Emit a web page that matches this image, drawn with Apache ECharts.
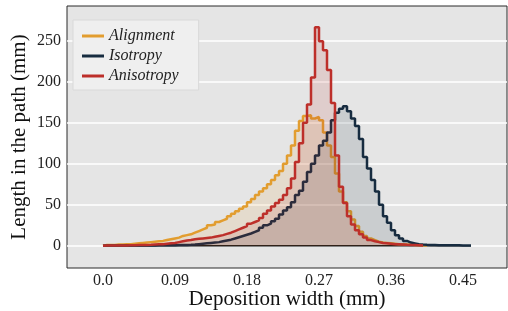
<!DOCTYPE html>
<html>
<head>
<meta charset="utf-8">
<script src="https://cdn.jsdelivr.net/npm/echarts@6/dist/echarts.min.js"></script>
<style>
  html, body { margin: 0; padding: 0; background: #fff; }
  #chart { width: 508px; height: 311px; }
</style>
</head>
<body>
<div id="chart"></div>
<script>
// histogram bins start at 0, all with the same width (mm)
var binStart = 0;
var binWidth = 0.005;

// counts per bin
var alignment = [
  1, 1, 1, 1.5, 1.5, 2, 2, 2.5, 3, 3.5,
  4, 4.5, 5, 5.5, 6, 7, 8, 9, 10, 12,
  13, 14, 16, 18, 20, 22, 25, 26, 29, 31,
  33, 36, 39, 42, 45, 48, 53, 57, 62, 66,
  70, 75, 80, 86, 91, 100, 110, 122, 140, 152,
  158, 159, 155, 157, 153, 138, 122, 108, 88, 66,
  53, 42, 32, 24, 17, 12, 9, 7, 5, 4,
  3.5, 3, 2.5, 2, 2, 1.5, 1.5, 1, 1, 0.8,
  0.5
];
var isotropy = [
  0.3, 0.3, 0.3, 0.3, 0.3, 0.3, 0.3, 0.3, 0.3, 0.3,
  0.5, 0.5, 0.5, 0.6, 0.6, 0.7, 0.8, 0.8, 0.9, 1,
  1, 1.2, 1.5, 2, 2.5, 3, 3.5, 4, 4.5, 5.5,
  6.5, 7.5, 9, 10.5, 12, 13.5, 15, 17, 19, 22,
  25, 27, 30, 33, 38, 43, 47, 53, 62, 67,
  78, 90, 100, 110, 122, 128, 138, 153, 162, 167,
  170, 164, 155, 146, 130, 108, 94, 80, 66, 50,
  36, 28, 19, 13, 9, 6, 4, 3, 2, 1.5,
  1.2, 1, 1, 0.8, 0.8, 0.7, 0.7, 0.6, 0.6, 0.5,
  0.5, 0.5
];
var anisotropy = [
  0.5, 0.5, 0.5, 0.5, 0.5, 0.5, 0.8, 0.8, 1, 1,
  1, 1.2, 1.5, 1.8, 2, 2.5, 3, 3.5, 4.5, 5.5,
  6.5, 7, 8, 8.5, 9, 9.5, 10, 11, 12, 13,
  14.5, 16, 18, 20, 22, 24, 27, 29, 31, 34,
  39, 43, 48, 52, 56, 62, 70, 82, 102, 125,
  150, 172, 205, 266, 249, 238, 214, 174, 110, 72,
  52, 36, 26, 19, 14, 10, 7, 5.5, 4.5, 3.5,
  3, 2.5, 2, 1.8, 1.5, 1.2, 1, 1, 0.8, 0.5
];

var seriesNames = ['Alignment', 'Isotropy', 'Anisotropy'];
var seriesColors = ['#e29d2f', '#172c40', '#bd2f2a'];

var xTicks = [0, 0.09, 0.18, 0.27, 0.36, 0.45];
var xTickLabels = ['0.0', '0.09', '0.18', '0.27', '0.36', '0.45'];
var yTicks = [0, 50, 100, 150, 200, 250];

// turn bin counts into step outline points
function toSteps(counts) {
  var pts = [[binStart, 0]];
  for (var i = 0; i < counts.length; i++) {
    pts.push([binStart + i * binWidth, counts[i]]);
  }
  pts.push([binStart + counts.length * binWidth, 0]);
  return pts;
}

var allCounts = [alignment, isotropy, anisotropy];
var maxEdge = Math.max.apply(null, allCounts.map(function (c) { return binStart + c.length * binWidth; }));

var series = allCounts.map(function (counts, k) {
  return {
    name: seriesNames[k],
    type: 'line',
    step: 'end',
    symbol: 'none',
    data: toSteps(counts),
    color: seriesColors[k],
    lineStyle: { width: 2.5, color: seriesColors[k] },
    areaStyle: { color: seriesColors[k], opacity: 0.13 },
    z: 3 + k
  };
});

// bottom edge of the histograms
series.unshift({
  name: 'base',
  type: 'line',
  symbol: 'none',
  silent: true,
  data: [[binStart, 0], [maxEdge, 0]],
  lineStyle: { width: 1.5, color: '#111' },
  z: 2
});

var chart = echarts.init(document.getElementById('chart'), null, { renderer: 'canvas' });
chart.setOption({
  animation: false,
  backgroundColor: '#ffffff',
  grid: {
    left: 67, right: 1, top: 6, bottom: 43,
    outerBoundsMode: 'none',
    containLabel: false,
    show: true,
    backgroundColor: '#e5e5e5',
    borderColor: '#2a2a2a',
    borderWidth: 1
  },
  legend: {
    data: seriesNames,
    orient: 'vertical',
    left: 73,
    top: 20,
    backgroundColor: '#efefef',
    borderColor: '#d9d9d9',
    borderWidth: 1,
    borderRadius: 0,
    padding: [8, 20, 6, 9],
    itemGap: 4,
    itemWidth: 22,
    itemHeight: 3,
    icon: 'rect',
    textStyle: {
      fontFamily: 'Liberation Serif',
      fontStyle: 'italic',
      fontSize: 16,
      color: '#222'
    }
  },
  xAxis: {
    type: 'value',
    min: -0.045,
    max: 0.505,
    name: 'Deposition width (mm)',
    nameLocation: 'middle',
    nameGap: 21,
    nameMoveOverlap: false,
    nameTextStyle: { fontFamily: 'Liberation Serif', fontSize: 21, color: '#111' },
    axisLine: { show: false },
    axisTick: { show: false },
    splitLine: { show: false },
    axisLabel: {
      customValues: xTicks,
      formatter: function (v) {
        var i = xTicks.indexOf(v);
        return i >= 0 ? xTickLabels[i] : '';
      },
      margin: 5,
      fontFamily: 'Liberation Serif',
      fontSize: 16,
      color: '#222'
    }
  },
  yAxis: {
    type: 'value',
    min: -27,
    max: 292,
    name: 'Length in the path (mm)',
    nameLocation: 'middle',
    nameGap: 37,
    nameMoveOverlap: false,
    nameTextStyle: { fontFamily: 'Liberation Serif', fontSize: 21, color: '#111' },
    axisLine: { show: false },
    axisTick: { show: false, customValues: yTicks },
    splitLine: { show: true, lineStyle: { color: '#ffffff', width: 1.5 } },
    axisLabel: {
      customValues: yTicks,
      margin: 6,
      fontFamily: 'Liberation Serif',
      fontSize: 16,
      color: '#222'
    }
  },
  series: series
});
</script>
</body>
</html>
